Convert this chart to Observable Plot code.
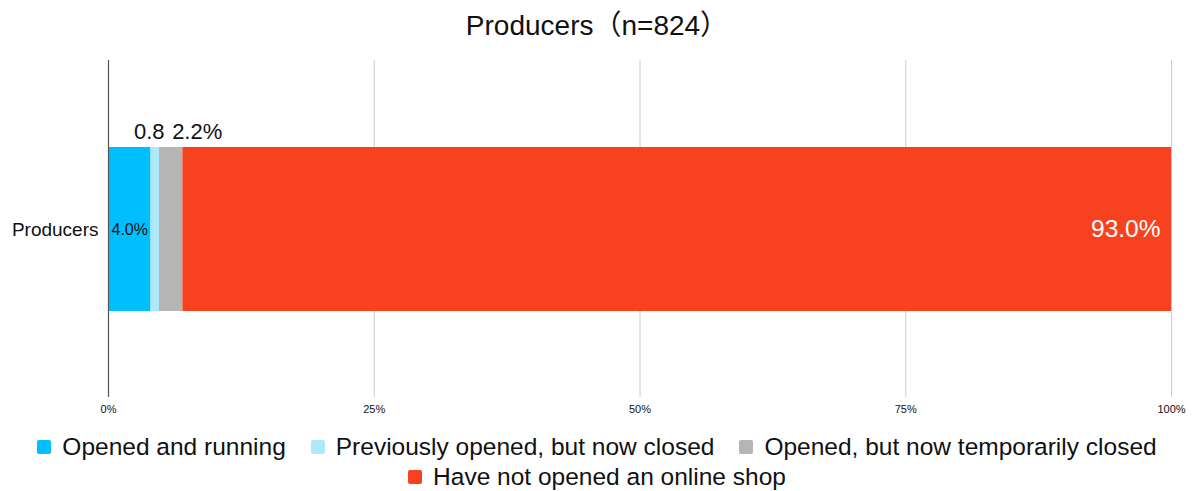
<!DOCTYPE html>
<html>
<head>
<meta charset="utf-8">
<script src="https://cdn.jsdelivr.net/npm/d3@7"></script>
<script src="https://cdn.jsdelivr.net/npm/@observablehq/plot@0.6"></script>
<style>
  html, body { margin: 0; padding: 0; background: #fff; }
  body { width: 1194px; height: 491px; overflow: hidden; font-family: "Liberation Sans", Arial, Helvetica, sans-serif; color: #111; }
  #title { height: 50px; line-height: 52px; text-align: center; font-size: 28px; font-family: "Liberation Sans", "Noto Sans CJK JP", Arial, sans-serif; }
  #legend { display: flex; flex-wrap: wrap; justify-content: center; column-gap: 25px; row-gap: 2px; padding: 8px 10px 0 10px; font-size: 24.5px; line-height: 28px; }
  .item { display: flex; align-items: center; white-space: nowrap; }
  .sw { width: 14px; height: 14px; margin-right: 11px; border-radius: 2px; }
</style>
</head>
<body>
<div id="title">Producers（n=824）</div>
<div id="chart"></div>
<div id="legend"></div>
<script>
const title = "Producers（n=824）";
const categories = ["Producers"];
const segments = [
  "Opened and running",
  "Previously opened, but now closed",
  "Opened, but now temporarily closed",
  "Have not opened an online shop"
];
const values = [4.0, 0.8, 2.2, 93.0];
const labels = ["4.0%", "0.8", "2.2%", "93.0%"];
const colors = ["#01bffe", "#ade8fb", "#b5b5b5", "#f8421f"];
const xTicks = [0, 25, 50, 75, 100];

const cum = d3.cumsum(values);
const rows = segments.map((s, i) => ({
  cat: categories[0],
  seg: s,
  value: values[i],
  x1: cum[i] - values[i],
  x2: cum[i],
  mid: cum[i] - values[i] / 2,
  label: labels[i]
}));

const plot = Plot.plot({
  width: 1194,
  height: 375,
  marginLeft: 108,
  marginRight: 23,
  marginTop: 10,
  marginBottom: 28,
  style: { fontFamily: "Liberation Sans, Arial, sans-serif", color: "#111", background: "#fff" },
  x: { domain: [0, 100], label: null },
  y: { domain: categories, label: null, padding: 0.345 },
  color: { domain: segments, range: colors },
  marks: [
    Plot.gridX(xTicks.slice(1), { stroke: "#cccccc", strokeOpacity: 1, strokeWidth: 1 }),
    Plot.axisX({ ticks: xTicks, tickFormat: d => d + "%", tickSize: 0, tickPadding: 8, fontSize: 11, label: null }),
    Plot.axisY({ tickSize: 0, tickPadding: 10, fontSize: 19, label: null }),
    Plot.barX(rows, { x1: "x1", x2: "x2", y: "cat", fill: "seg" }),
    Plot.ruleX([0], { stroke: "#555", strokeWidth: 1.2 }),
    Plot.text(rows.slice(0, 1), { x: "x1", y: "cat", text: "label", textAnchor: "start", dx: 3, fontSize: 16, fill: "#111" }),
    Plot.text(rows.slice(1, 2), { x: "mid", y: "cat", text: "label", dx: -6, dy: -98, fontSize: 22, fill: "#111" }),
    Plot.text(rows.slice(2, 3), { x: "mid", y: "cat", text: "label", dx: 26, dy: -98, fontSize: 22, fill: "#111" }),
    Plot.text(rows.slice(3, 4), { x: "x2", y: "cat", text: "label", textAnchor: "end", dx: -11, fontSize: 24.5, fill: "#fff" })
  ]
});
document.getElementById("chart").appendChild(plot);

const legend = document.getElementById("legend");
segments.forEach((s, i) => {
  const it = document.createElement("div");
  it.className = "item";
  const sw = document.createElement("span");
  sw.className = "sw";
  sw.style.background = colors[i];
  const tx = document.createElement("span");
  tx.textContent = s;
  it.appendChild(sw);
  it.appendChild(tx);
  legend.appendChild(it);
});
</script>
</body>
</html>
